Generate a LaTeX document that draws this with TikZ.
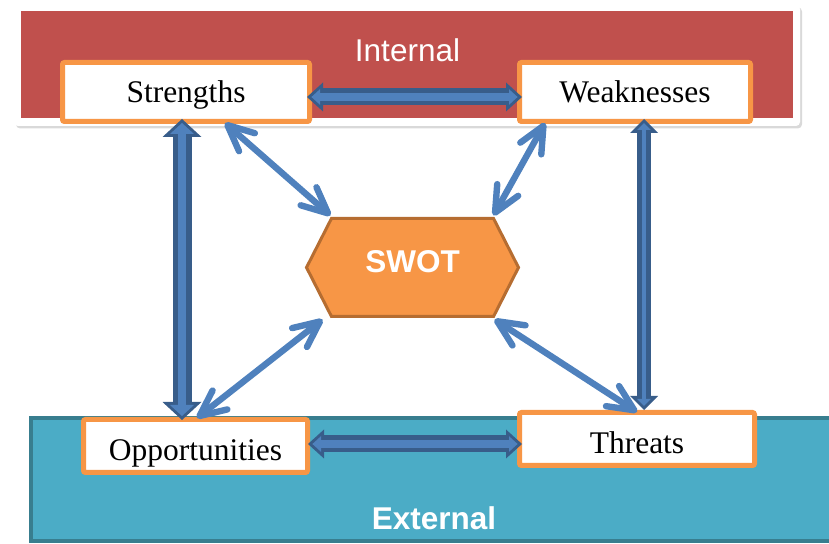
\documentclass[tikz,border=0pt]{standalone}
\usepackage{fontspec}
\setmainfont{Liberation Serif}
\setsansfont{Liberation Sans}
\usepackage{tikz}
\usetikzlibrary{calc}
\usetikzlibrary{shapes.symbols}
\usetikzlibrary{shadows}
\usetikzlibrary{arrows.meta}
\tikzset{>=latex}
\definecolor{internalred}{HTML}{C0504D}
\definecolor{externalteal}{HTML}{4BACC6}
\definecolor{externaledge}{RGB}{56,126,143}
\definecolor{boxorange}{HTML}{F79646}
\definecolor{swotedge}{HTML}{B66D31}
\definecolor{arrowdark}{HTML}{385D8A}
\definecolor{arrowlight}{HTML}{4F81BD}
\tikzset{
  factor/.style={draw=boxorange, fill=white, line width=2.5pt, rounded corners=1pt,
    font=\fontsize{15.75}{18}\selectfont, text height=12pt, text depth=1.5pt},
  heading/.style={text=white, font=\sffamily\fontsize{15.75}{18}\selectfont},
  swotbox/.style={signal, signal to=west and east, signal pointer angle=126,
    draw=swotedge, fill=boxorange, line width=1.5pt, minimum width=106pt, minimum height=49pt,
    text=white, font=\sffamily\bfseries\fontsize{15.75}{18}\selectfont,
    text height=11.3pt, text depth=6.1pt},
  link/.style={draw=arrowlight, line width=3.2pt, line cap=round,
    {Straight Barb[round,length=13pt,width=12pt]}-{Straight Barb[round,length=13pt,width=12pt]}},
  % outer shaft, inner shaft, outer tip width/length, inner tip width/length, inset
  pair/.style n args={7}{
    preaction={draw=arrowdark, line width=#1, shorten <=0pt, shorten >=0pt,
      {Triangle[width=#3,length=#4,line width=0pt]}-{Triangle[width=#3,length=#4,line width=0pt]}},
    draw=arrowlight, line width=#2, shorten <=#7, shorten >=#7,
    {Triangle[width=#5,length=#6,line width=0pt]}-{Triangle[width=#5,length=#6,line width=0pt]}}
}

\begin{document}
\begin{tikzpicture}[x=0.5pt,y=-0.5pt]
    \useasboundingbox (0,0) rectangle (829,544);
    \clip (0,0) rectangle (829,544);
    \fill[white, rounded corners=2pt, drop shadow={opacity=.3, shadow xshift=1pt, shadow yshift=-1.2pt}] (14,5) rectangle (800,126);
    \fill[internalred] (21,11) rectangle (793,118);
    \node[heading] (internal) at (407.5,50) {Internal};
    \draw[externaledge, fill=externalteal, line width=2pt] (31,418) rectangle (860,541);
    \node[heading, font=\sffamily\bfseries\fontsize{15.75}{18}\selectfont] (external) at (434,518) {External};

    \node[factor, minimum width=123.5pt, minimum height=29.5pt] (strengths) at (186,92) {Strengths};
    \node[factor, minimum width=115.5pt, minimum height=29.5pt] (weaknesses) at (635,92) {Weaknesses};
    \node[factor, minimum width=112pt, minimum height=26.5pt, text height=15pt, text depth=0pt] (opportunities) at (195.5,446) {Opportunities};
    \node[factor, minimum width=117.5pt, minimum height=26.5pt, text height=15pt, text depth=0pt] (threats) at (637,439) {Threats};
    \node[swotbox] (swot) at (412.5,267.5) {SWOT};

    \draw[pair={8.5pt}{4pt}{14.5pt}{8pt}{7.8pt}{4.3pt}{2.2pt}] ($(strengths.east)+(-5,5)$) -- ($(weaknesses.west)+(5,5)$);
    \draw[pair={8.5pt}{4pt}{14.5pt}{8pt}{7.8pt}{4.3pt}{2.2pt}] ($(opportunities.east)+(-2,-2)$) -- ($(threats.west)+(5,5)$);
    \draw[pair={9.5pt}{4pt}{19.5pt}{9pt}{12pt}{5.5pt}{2pt}] ($(strengths.south)+(-4,-5)$) -- ($(opportunities.north)+(-13.5,3)$);
    \draw[pair={7pt}{2pt}{14pt}{7pt}{6.8pt}{3.4pt}{2.1pt}] ($(weaknesses.south)+(9,-5)$) -- ($(threats.north)+(7,0)$);

    \draw[link] ($(strengths.south)+(39,-1)$) -- ($(swot.center)+(-82,-52)$);
    \draw[link] ($(weaknesses.south)+(-90,-1)$) -- ($(swot.center)+(81,-52)$);
    \draw[link] ($(swot.center)+(-90,52)$) -- ($(opportunities.north)+(1.5,1)$);
    \draw[link] ($(swot.center)+(82,52)$) -- ($(threats.north)+(0,2)$);
\end{tikzpicture}
\end{document}
